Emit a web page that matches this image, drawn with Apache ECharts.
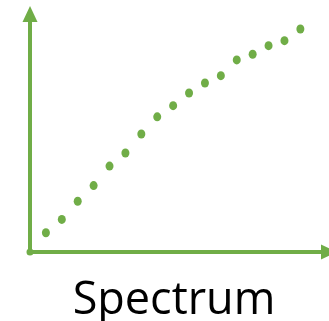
<!DOCTYPE html>
<html>
<head>
<meta charset="utf-8">
<style>
  html, body { margin: 0; padding: 0; background: #fff; }
  #chart { width: 329px; height: 321px; }
</style>
<script src="https://cdn.jsdelivr.net/npm/echarts@6/dist/echarts.min.js"></script>
</head>
<body>
<div id="chart"></div>
<script>
// Spectrum samples: position index and rising response (percent of axis height)
const positions = [1, 2, 3, 4, 5, 6, 7, 8, 9, 10, 11, 12, 13, 14, 15, 16, 17];
const response = [8.1, 13.7, 21.3, 27.9, 36.1, 41.6, 49.6, 56.8, 61.5, 66.8, 71.0, 74.1, 80.7, 83.1, 86.7, 88.8, 93.7];
const origin = [[0, 0]];
const caption = 'Spectrum';

const green = '#70AD47';

const chart = echarts.init(document.getElementById('chart'), null, { renderer: 'canvas' });

const axisCommon = {
  type: 'value',
  min: 0,
  axisLabel: { show: false },
  axisTick: { show: false },
  splitLine: { show: false },
  axisLine: {
    show: true,
    symbol: ['none', 'triangle'],
    symbolSize: [15, 16],
    lineStyle: { color: green, width: 4 }
  }
};

chart.setOption({
  animation: false,
  grid: { left: 30, right: -4, top: 14, bottom: 69 },
  xAxis: Object.assign({}, axisCommon, { max: 18.8 }),
  yAxis: Object.assign({}, axisCommon, { max: 100 }),
  graphic: [{
    type: 'text',
    x: 174,
    y: 301,
    style: {
      text: caption,
      fill: '#000',
      font: '45px "Open Sans"',
      textAlign: 'center',
      textVerticalAlign: 'middle'
    }
  }],
  series: [
    {
      type: 'scatter',
      symbol: 'circle',
      symbolSize: [8, 9],
      itemStyle: { color: green, opacity: 1 },
      data: positions.map((p, i) => [p, response[i]]),
      z: 3
    },
    {
      type: 'scatter',
      symbol: 'circle',
      symbolSize: 7,
      itemStyle: { color: green, opacity: 1 },
      data: origin,
      z: 4
    }
  ]
});
</script>
</body>
</html>
